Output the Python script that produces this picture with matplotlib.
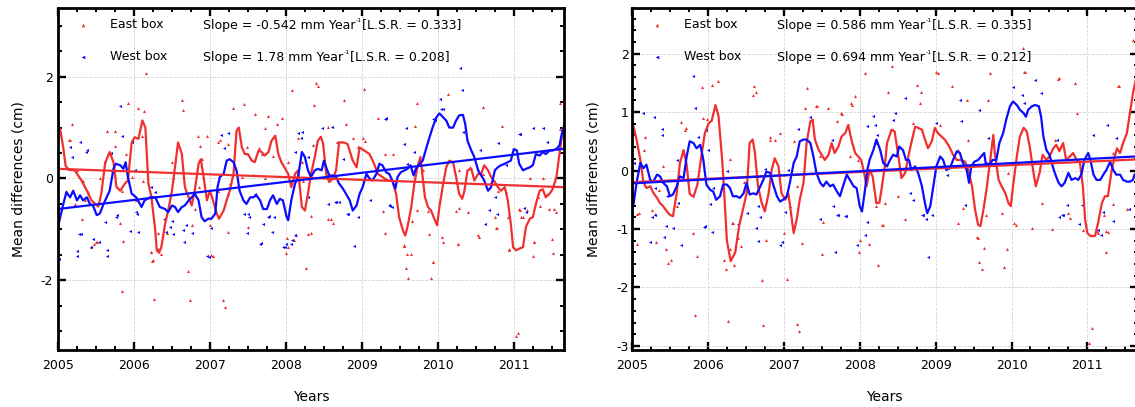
import matplotlib
matplotlib.use("Agg")
import matplotlib.pyplot as plt
from matplotlib.ticker import MultipleLocator, FuncFormatter

plt.rcParams['axes.unicode_minus'] = False
plt.rcParams['font.family'] = ['DejaVu Sans']

# ---------------- DATA ----------------
panel_titles = ["East box", "West box"]
x_range = (2005.0, 2011.66)

# Left panel - smoothed lines
L_east_line_t = [2005.00, 2005.03, 2005.07, 2005.10, 2005.14, 2005.22, 2005.31, 2005.38, 2005.44, 2005.53,
                 2005.57, 2005.62, 2005.68, 2005.73, 2005.77, 2005.82, 2005.88, 2005.92, 2005.97, 2006.01,
                 2006.06, 2006.11, 2006.15, 2006.19, 2006.23, 2006.28, 2006.30, 2006.33, 2006.36, 2006.41,
                 2006.45, 2006.50, 2006.54, 2006.58, 2006.63, 2006.67, 2006.72, 2006.76, 2006.80, 2006.85,
                 2006.88, 2006.91, 2006.96, 2007.00, 2007.04, 2007.09, 2007.12, 2007.18, 2007.22, 2007.26,
                 2007.31, 2007.35, 2007.38, 2007.42, 2007.46, 2007.50, 2007.55, 2007.59, 2007.64, 2007.68,
                 2007.72, 2007.77, 2007.81, 2007.86, 2007.90, 2007.94, 2007.99, 2008.03, 2008.07, 2008.12,
                 2008.16, 2008.21, 2008.25, 2008.29, 2008.33, 2008.38, 2008.42, 2008.46, 2008.49, 2008.53,
                 2008.57, 2008.62, 2008.66, 2008.70, 2008.75, 2008.81, 2008.88, 2008.93, 2008.97, 2009.03,
                 2009.10, 2009.16, 2009.21, 2009.27, 2009.34, 2009.40, 2009.45, 2009.49, 2009.54, 2009.57,
                 2009.60, 2009.65, 2009.69, 2009.73, 2009.77, 2009.80, 2009.83, 2009.87, 2009.91, 2009.96,
                 2009.99, 2010.02, 2010.07, 2010.11, 2010.15, 2010.20, 2010.24, 2010.28, 2010.32, 2010.35,
                 2010.39, 2010.44, 2010.48, 2010.53, 2010.57, 2010.61, 2010.66, 2010.70, 2010.75, 2010.79,
                 2010.83, 2010.88, 2010.92, 2010.96, 2010.99, 2011.03, 2011.07, 2011.12, 2011.16, 2011.21,
                 2011.25, 2011.29, 2011.34, 2011.38, 2011.42, 2011.47, 2011.51, 2011.56, 2011.60, 2011.63,
                 2011.66]
L_east_line_v = [1.07, 0.95, 0.60, 0.25, 0.17, 0.16, -0.04, -0.24, -0.43, -0.55,
                 -0.30, 0.30, 0.52, 0.32, -0.17, -0.24, -0.10, -0.04, 0.71, 0.81,
                 0.78, 1.14, 1.00, -0.10, -0.37, -1.02, -1.41, -1.46, -1.35, -0.89,
                 -0.63, -0.24, 0.22, 0.71, 0.48, -0.17, -0.37, -0.53, -0.24, 0.29,
                 0.38, 0.09, -0.43, -0.24, -0.43, -0.69, -0.79, -0.63, -0.43, -0.24,
                 0.09, 0.94, 1.00, 0.61, 0.48, 0.48, 0.35, 0.32, 0.55, 0.52,
                 0.45, 0.52, 0.74, 0.84, 0.48, 0.32, 0.19, 0.09, -0.17, 0.09,
                 0.16, -0.56, -0.63, -0.30, 0.09, 0.42, 0.74, 0.82, 0.68, 0.09,
                 -0.07, 0.00, 0.16, 0.71, 0.71, 0.68, 0.35, 0.22, 0.61, 0.55,
                 0.48, 0.29, 0.09, 0.03, -0.04, -0.04, -0.30, -0.76, -1.02, -1.12,
                 -0.95, -0.56, -0.10, 0.22, 0.42, 0.03, -0.37, -0.56, -0.63, -0.82,
                 -0.92, -0.56, -0.10, 0.22, 0.35, 0.32, 0.03, -0.30, -0.40, -0.24,
                 0.16, 0.19, -0.04, 0.09, 0.09, 0.26, 0.16, 0.03, -0.07, -0.17,
                 -0.24, -0.17, -0.43, -0.89, -1.35, -1.41, -1.38, -1.35, -0.95, -0.79,
                 -0.76, -0.50, -0.24, -0.21, -0.37, -0.30, -0.21, 0.03, 0.48, 0.81,
                 1.05]

L_west_line_t = [2005.00, 2005.07, 2005.11, 2005.16, 2005.20, 2005.25, 2005.29, 2005.33, 2005.38, 2005.42,
                 2005.46, 2005.51, 2005.55, 2005.60, 2005.64, 2005.68, 2005.73, 2005.76, 2005.82, 2005.86,
                 2005.89, 2005.92, 2005.97, 2006.03, 2006.10, 2006.14, 2006.21, 2006.28, 2006.34, 2006.41,
                 2006.45, 2006.50, 2006.54, 2006.58, 2006.63, 2006.67, 2006.72, 2006.76, 2006.80, 2006.85,
                 2006.89, 2006.93, 2006.98, 2007.02, 2007.07, 2007.10, 2007.13, 2007.18, 2007.22, 2007.26,
                 2007.31, 2007.35, 2007.39, 2007.44, 2007.48, 2007.53, 2007.57, 2007.61, 2007.66, 2007.70,
                 2007.75, 2007.79, 2007.83, 2007.88, 2007.92, 2007.96, 2008.01, 2008.03, 2008.07, 2008.12,
                 2008.16, 2008.21, 2008.25, 2008.29, 2008.33, 2008.38, 2008.42, 2008.47, 2008.50, 2008.53,
                 2008.57, 2008.62, 2008.66, 2008.70, 2008.75, 2008.79, 2008.84, 2008.88, 2008.93, 2008.97,
                 2009.01, 2009.06, 2009.10, 2009.14, 2009.19, 2009.23, 2009.27, 2009.32, 2009.36, 2009.40,
                 2009.44, 2009.47, 2009.51, 2009.56, 2009.60, 2009.64, 2009.68, 2009.71, 2009.76, 2009.80,
                 2009.85, 2009.89, 2009.93, 2009.98, 2010.02, 2010.07, 2010.11, 2010.15, 2010.20, 2010.24,
                 2010.28, 2010.33, 2010.36, 2010.39, 2010.44, 2010.48, 2010.53, 2010.57, 2010.61, 2010.66,
                 2010.70, 2010.75, 2010.79, 2010.83, 2010.88, 2010.92, 2010.96, 2011.00, 2011.04, 2011.07,
                 2011.12, 2011.16, 2011.21, 2011.25, 2011.29, 2011.34, 2011.38, 2011.42, 2011.47, 2011.51,
                 2011.56, 2011.60, 2011.64, 2011.66]
L_west_line_v = [-0.95, -0.50, -0.27, -0.37, -0.24, -0.43, -0.33, -0.43, -0.37, -0.50,
                 -0.53, -0.72, -0.69, -0.50, -0.37, -0.24, 0.19, 0.29, 0.26, 0.19,
                 0.32, 0.03, -0.30, -0.37, -0.56, -0.43, -0.37, -0.37, -0.56, -0.60,
                 -0.66, -0.53, -0.56, -0.66, -0.56, -0.53, -0.43, -0.37, -0.30, -0.43,
                 -0.76, -0.84, -0.79, -0.79, -0.69, -0.17, 0.03, 0.09, 0.35, 0.38,
                 0.32, 0.16, -0.24, -0.43, -0.50, -0.37, -0.37, -0.33, -0.43, -0.60,
                 -0.60, -0.43, -0.33, -0.50, -0.40, -0.43, -0.76, -0.82, -0.43, -0.10,
                 0.03, 0.52, 0.42, 0.16, 0.03, 0.16, 0.19, 0.16, 0.35, 0.22,
                 0.06, 0.06, 0.03, -0.10, -0.20, -0.30, -0.43, -0.63, -0.53, -0.30,
                 -0.17, 0.09, 0.00, -0.04, 0.09, 0.29, 0.26, 0.12, 0.09, -0.04,
                 -0.20, 0.03, 0.12, 0.16, 0.19, 0.26, 0.06, 0.19, 0.29, 0.35,
                 0.61, 0.81, 1.00, 1.20, 1.28, 1.20, 1.14, 1.00, 1.00, 1.14,
                 1.24, 1.25, 1.07, 0.74, 0.55, 0.42, 0.16, 0.06, -0.04, -0.24,
                 -0.17, 0.16, 0.22, 0.26, 0.29, 0.32, 0.35, 0.58, 0.55, 0.29,
                 0.16, 0.19, 0.22, 0.26, 0.48, 0.45, 0.52, 0.48, 0.55, 0.55,
                 0.58, 0.65, 0.94, 1.00]

# Left panel - scattered points
L_east_pts_t = [2005.01, 2006.16, 2005.92, 2006.05, 2006.13, 2005.18, 2006.63, 2006.65, 2007.30, 2007.45,
                2007.59, 2007.76, 2007.88, 2007.95, 2008.08, 2008.40, 2008.42, 2008.37, 2005.64, 2005.75,
                2005.16, 2007.13, 2006.87, 2006.96, 2006.84, 2007.64, 2007.72, 2007.49, 2008.16, 2008.36,
                2005.55, 2009.03, 2008.77, 2009.72, 2010.59, 2011.61, 2009.21, 2009.70, 2010.84, 2008.88,
                2009.01, 2011.61, 2005.31, 2005.48, 2005.50, 2005.81, 2005.86, 2005.84, 2006.22, 2006.24,
                2006.27, 2006.32, 2006.36, 2006.43, 2006.71, 2006.74, 2006.76, 2007.00, 2007.04, 2007.17,
                2007.20, 2007.24, 2007.50, 2008.02, 2008.00, 2008.10, 2008.13, 2008.27, 2008.29, 2008.33,
                2008.59, 2008.62, 2009.28, 2009.30, 2009.55, 2009.58, 2009.61, 2009.64, 2009.66, 2009.72,
                2009.88, 2009.91, 2009.94, 2010.05, 2010.07, 2010.24, 2010.28, 2010.27, 2010.39, 2010.54,
                2010.75, 2010.78, 2010.92, 2010.94, 2011.03, 2011.05, 2011.08, 2011.12, 2011.17, 2011.25,
                2011.26, 2011.35, 2011.46, 2011.50, 2011.51, 2011.55, 2005.14, 2005.75, 2005.33, 2005.25,
                2005.62, 2005.90, 2006.11, 2006.50, 2006.52, 2006.89, 2007.10, 2007.24, 2007.68, 2007.83,
                2008.03, 2008.21, 2005.43, 2005.51, 2006.23, 2006.25, 2006.32, 2007.02, 2008.03, 2005.36,
                2005.40, 2006.12, 2006.76, 2006.85, 2007.11, 2007.42, 2007.57, 2007.72, 2008.12, 2008.23,
                2007.24, 2006.80, 2006.03, 2005.84, 2005.22, 2005.11, 2005.97, 2008.55, 2008.79, 2009.04,
                2008.67, 2008.95, 2009.30, 2009.41, 2009.76, 2009.80, 2010.28, 2010.42, 2010.59, 2010.70,
                2010.79, 2010.90, 2011.07, 2011.21, 2011.32, 2011.38, 2011.43, 2011.53, 2009.56, 2009.60,
                2009.93, 2010.26, 2010.53, 2010.77, 2010.93, 2011.09, 2011.27, 2008.55, 2008.33, 2009.87,
                2010.13]
L_east_pts_v = [3.00, 2.08, 1.49, 1.39, 1.33, 1.08, 1.55, 1.35, 1.39, 1.47,
                1.27, 1.22, 1.08, 1.18, 1.73, 1.88, 1.82, 1.45, 0.94, 0.94,
                0.75, 0.75, 0.63, 0.84, 0.84, 0.59, 1.00, 0.61, 0.80, 0.65,
                0.00, 1.76, 1.55, 1.49, 1.41, 1.49, 1.18, 1.04, 1.04, 0.80,
                0.80, 0.98, -0.79, -1.28, -1.24, -0.88, -1.22, -2.22, -1.45, -1.63,
                -2.37, -1.08, -1.49, -1.08, -1.82, -2.39, -0.92, -0.92, -1.53, -2.39,
                -2.53, -1.06, -0.96, -1.17, -1.47, -1.20, -1.12, -1.75, -1.10, -0.73,
                -0.79, -0.88, -0.64, -1.08, -1.33, -1.76, -1.96, -1.49, -0.84, -0.61,
                -1.10, -1.96, -1.65, -1.14, -1.25, -0.63, -0.57, -1.29, -0.65, -1.14,
                -0.75, -0.98, -0.75, -1.39, -3.10, -3.04, -0.61, -0.75, -0.61, -1.53,
                -1.25, -0.55, -0.59, -1.19, -1.47, -0.65, 0.75, 0.63, -0.04, 0.16,
                0.35, 0.48, 0.84, 0.32, 0.00, 0.38, 0.71, 0.68, 0.48, 0.45,
                0.32, 0.32, -1.34, -1.25, -1.44, -1.60, -1.38, -1.51, -1.35, -0.43,
                -0.27, -0.04, -0.37, -0.17, -0.24, 0.03, 0.06, 0.00, 0.03, -0.04,
                -0.30, -0.60, -0.43, -0.24, -0.50, -0.24, 0.03, 1.02, 1.07, 0.74,
                0.71, 0.61, 0.48, 0.48, 0.35, 0.16, 0.16, 0.22, 0.09, -0.07,
                -0.24, -0.27, -0.60, 0.00, -0.37, 0.00, -0.30, -0.60, -1.31, -1.49,
                -1.64, -1.28, -1.12, -0.98, -1.40, -0.76, -1.25, -0.79, -1.08, -0.63,
                1.66]

L_west_pts_t = [2005.81, 2005.84, 2005.98, 2005.29, 2005.16, 2005.37, 2005.18, 2005.70, 2007.24, 2008.16,
                2008.20, 2008.47, 2010.29, 2010.32, 2010.07, 2010.03, 2009.32, 2009.58, 2009.96, 2008.60,
                2011.25, 2011.38, 2011.08, 2010.79, 2005.01, 2005.25, 2005.27, 2005.30, 2005.43, 2005.46,
                2005.54, 2005.62, 2005.65, 2005.76, 2005.95, 2006.04, 2006.05, 2006.40, 2006.42, 2006.50,
                2006.52, 2006.64, 2006.66, 2006.68, 2006.96, 2006.99, 2007.01, 2007.45, 2007.49, 2007.51,
                2007.67, 2007.70, 2007.78, 2007.82, 2007.84, 2007.96, 2008.00, 2008.08, 2008.66, 2008.82,
                2008.90, 2008.95, 2009.37, 2010.62, 2010.67, 2011.14, 2011.16, 2005.38, 2006.01, 2006.23,
                2006.28, 2006.03, 2005.77, 2005.25, 2005.64, 2006.41, 2006.47, 2006.76, 2007.15, 2007.18,
                2007.26, 2007.50, 2007.59, 2007.66, 2007.77, 2007.99, 2008.07, 2008.12, 2008.21, 2008.12,
                2008.29, 2008.75, 2008.29, 2008.55, 2008.64, 2008.70, 2008.81, 2009.10, 2009.36, 2009.40,
                2009.30, 2009.56, 2009.69, 2009.60, 2009.94, 2010.04, 2010.33, 2010.55, 2010.90, 2011.07,
                2011.43, 2011.57, 2010.75, 2010.78]
L_west_pts_v = [1.43, 0.84, 0.71, 0.71, 0.61, 0.53, 0.43, 0.51, 0.90, 0.90,
                0.80, 1.00, 2.18, 1.73, 1.37, 1.57, 1.18, 1.00, 1.14, 1.02,
                1.00, 1.00, 0.88, 0.69, -1.59, -1.53, -1.10, -1.10, -1.35, -1.18,
                -1.25, -0.86, -1.53, -0.75, -1.04, -0.69, -1.06, -0.79, -1.06, -0.84,
                -1.10, -1.02, -1.25, -0.92, -1.53, -1.55, -0.98, -0.69, -1.08, -0.75,
                -1.27, -0.90, -0.73, -1.06, -0.76, -1.35, -1.29, -1.20, -0.47, -0.69,
                -1.33, -0.76, -0.55, -0.90, -0.61, -0.57, -0.65, 0.55, 0.16, -0.17,
                -0.27, -0.66, -0.72, -1.42, -1.41, -0.79, -0.96, -1.08, 0.85, 0.60,
                -0.10, -0.69, -0.30, -1.28, -0.76, -1.34, -1.28, -1.12, 0.91, 0.52,
                0.42, 0.38, -0.37, -0.50, -0.46, -0.46, -0.69, -0.43, -0.53, -0.56,
                1.17, 0.68, 0.52, 0.29, 1.17, 1.37, 0.91, 0.55, 0.26, 0.88,
                0.71, 0.58, -0.37, -0.69]

# Right panel - smoothed lines
R_east_line_t = [2005.00, 2005.02, 2005.06, 2005.11, 2005.15, 2005.19, 2005.24, 2005.28, 2005.33, 2005.37,
                 2005.41, 2005.46, 2005.50, 2005.54, 2005.59, 2005.63, 2005.68, 2005.72, 2005.76, 2005.81,
                 2005.86, 2005.92, 2005.96, 2006.01, 2006.05, 2006.10, 2006.14, 2006.19, 2006.22, 2006.25,
                 2006.30, 2006.36, 2006.41, 2006.47, 2006.51, 2006.55, 2006.59, 2006.62, 2006.66, 2006.71,
                 2006.75, 2006.80, 2006.84, 2006.88, 2006.93, 2006.97, 2007.02, 2007.06, 2007.10, 2007.13,
                 2007.17, 2007.21, 2007.26, 2007.30, 2007.35, 2007.38, 2007.41, 2007.46, 2007.50, 2007.54,
                 2007.59, 2007.63, 2007.67, 2007.72, 2007.76, 2007.81, 2007.85, 2007.89, 2007.94, 2007.98,
                 2008.02, 2008.06, 2008.09, 2008.13, 2008.17, 2008.22, 2008.26, 2008.29, 2008.33, 2008.36,
                 2008.42, 2008.46, 2008.51, 2008.55, 2008.60, 2008.64, 2008.69, 2008.73, 2008.77, 2008.82,
                 2008.86, 2008.90, 2008.95, 2008.99, 2009.03, 2009.08, 2009.12, 2009.18, 2009.23, 2009.28,
                 2009.34, 2009.39, 2009.43, 2009.48, 2009.52, 2009.56, 2009.59, 2009.63, 2009.67, 2009.72,
                 2009.76, 2009.78, 2009.83, 2009.87, 2009.92, 2009.96, 2009.99, 2010.02, 2010.07, 2010.11,
                 2010.16, 2010.20, 2010.24, 2010.29, 2010.32, 2010.37, 2010.41, 2010.46, 2010.50, 2010.55,
                 2010.59, 2010.63, 2010.68, 2010.72, 2010.77, 2010.81, 2010.86, 2010.90, 2010.94, 2010.97,
                 2011.00, 2011.04, 2011.10, 2011.14, 2011.19, 2011.23, 2011.27, 2011.32, 2011.36, 2011.39,
                 2011.43, 2011.47, 2011.52, 2011.56, 2011.60, 2011.62, 2011.66]
R_east_line_v = [0.78, 0.75, 0.53, 0.18, -0.20, -0.30, -0.27, -0.38, -0.47, -0.56,
                 -0.61, -0.70, -0.76, -0.78, -0.38, 0.12, 0.35, 0.10, -0.40, -0.45,
                 -0.25, 0.30, 0.64, 0.81, 0.85, 1.12, 0.93, 0.15, -0.50, -1.20,
                 -1.55, -1.40, -0.96, -0.62, -0.39, 0.47, 0.53, 0.30, -0.27, -0.56,
                 -0.70, -0.39, 0.01, 0.21, 0.07, -0.39, -0.50, -0.39, -0.78, -1.07,
                 -0.84, -0.50, -0.21, 0.47, 0.84, 0.87, 0.53, 0.35, 0.27, 0.18,
                 0.27, 0.47, 0.30, 0.41, 0.58, 0.64, 0.78, 0.53, 0.30, 0.24,
                 0.18, -0.05, -0.27, 0.01, -0.10, -0.56, -0.55, -0.30, 0.07, 0.47,
                 0.70, 0.67, 0.24, -0.13, -0.04, 0.24, 0.53, 0.75, 0.73, 0.70,
                 0.53, 0.38, 0.50, 0.73, 0.64, 0.58, 0.53, 0.41, 0.27, 0.18,
                 0.18, 0.15, 0.01, -0.27, -0.67, -0.93, -0.95, -0.67, -0.33, 0.18,
                 0.61, 0.30, -0.16, -0.27, -0.39, -0.56, -0.61, -0.27, 0.24, 0.58,
                 0.73, 0.67, 0.41, -0.04, -0.27, -0.04, 0.27, 0.18, 0.24, 0.38,
                 0.44, 0.33, 0.47, 0.18, 0.24, 0.30, 0.18, 0.15, -0.27, -0.84,
                 -1.07, -1.12, -1.12, -0.90, -0.56, -0.44, -0.44, 0.01, 0.24, 0.38,
                 0.30, 0.47, 0.64, 0.98, 1.32, 1.44, 1.70]

R_west_line_t = [2005.00, 2005.02, 2005.06, 2005.11, 2005.15, 2005.19, 2005.24, 2005.28, 2005.33, 2005.37,
                 2005.41, 2005.46, 2005.50, 2005.54, 2005.59, 2005.63, 2005.68, 2005.72, 2005.76, 2005.81,
                 2005.85, 2005.90, 2005.94, 2005.98, 2006.03, 2006.07, 2006.11, 2006.16, 2006.20, 2006.25,
                 2006.29, 2006.33, 2006.38, 2006.42, 2006.47, 2006.51, 2006.55, 2006.60, 2006.64, 2006.69,
                 2006.73, 2006.77, 2006.82, 2006.86, 2006.91, 2006.95, 2006.99, 2007.04, 2007.08, 2007.13,
                 2007.17, 2007.21, 2007.26, 2007.30, 2007.35, 2007.39, 2007.43, 2007.48, 2007.52, 2007.56,
                 2007.61, 2007.65, 2007.70, 2007.74, 2007.78, 2007.83, 2007.87, 2007.92, 2007.96, 2008.00,
                 2008.03, 2008.07, 2008.10, 2008.13, 2008.18, 2008.22, 2008.27, 2008.31, 2008.36, 2008.40,
                 2008.44, 2008.49, 2008.52, 2008.57, 2008.61, 2008.65, 2008.68, 2008.73, 2008.77, 2008.82,
                 2008.86, 2008.89, 2008.93, 2008.97, 2009.01, 2009.06, 2009.10, 2009.14, 2009.19, 2009.23,
                 2009.28, 2009.32, 2009.36, 2009.41, 2009.44, 2009.47, 2009.51, 2009.56, 2009.60, 2009.64,
                 2009.66, 2009.71, 2009.75, 2009.80, 2009.84, 2009.89, 2009.93, 2009.98, 2010.02, 2010.07,
                 2010.11, 2010.16, 2010.19, 2010.22, 2010.27, 2010.31, 2010.36, 2010.39, 2010.42, 2010.46,
                 2010.50, 2010.53, 2010.57, 2010.62, 2010.66, 2010.70, 2010.75, 2010.79, 2010.84, 2010.88,
                 2010.92, 2010.96, 2011.01, 2011.04, 2011.08, 2011.12, 2011.17, 2011.21, 2011.25, 2011.30,
                 2011.34, 2011.38, 2011.43, 2011.47, 2011.52, 2011.56, 2011.60, 2011.62, 2011.66]
R_west_line_v = [-0.65, -0.58, -0.21, 0.13, 0.04, 0.10, -0.16, -0.19, -0.07, -0.10,
                 -0.21, -0.27, -0.44, -0.41, -0.27, -0.10, -0.13, 0.24, 0.50, 0.47,
                 0.38, 0.44, 0.18, -0.24, -0.33, -0.36, -0.50, -0.44, -0.24, -0.24,
                 -0.30, -0.44, -0.44, -0.47, -0.39, -0.21, -0.41, -0.39, -0.41, -0.27,
                 -0.16, -0.02, -0.04, -0.24, -0.44, -0.53, -0.50, -0.44, -0.21, 0.13,
                 0.24, 0.50, 0.53, 0.53, 0.47, 0.24, -0.04, -0.21, -0.27, -0.19,
                 -0.27, -0.24, -0.36, -0.44, -0.27, -0.07, -0.16, -0.27, -0.30, -0.61,
                 -0.70, -0.33, 0.01, 0.18, 0.35, 0.53, 0.35, 0.13, 0.07, 0.18,
                 0.27, 0.24, 0.41, 0.35, 0.18, 0.18, 0.01, 0.07, -0.04, -0.27,
                 -0.56, -0.73, -0.61, -0.27, 0.07, 0.24, 0.18, 0.01, 0.04, 0.18,
                 0.33, 0.30, 0.13, 0.01, -0.21, 0.07, 0.15, 0.18, 0.24, 0.30,
                 0.13, 0.10, 0.18, 0.18, 0.47, 0.64, 0.87, 1.10, 1.18, 1.12,
                 1.04, 0.98, 0.92, 1.04, 1.10, 1.12, 1.10, 0.92, 0.58, 0.35,
                 0.27, 0.13, -0.04, -0.21, -0.27, -0.21, -0.04, -0.16, -0.13, -0.16,
                 -0.07, 0.18, 0.30, 0.18, -0.07, -0.16, -0.16, -0.07, 0.01, 0.15,
                 0.01, -0.07, -0.07, -0.16, -0.19, -0.19, -0.16, -0.07, -0.05]

# Right panel - scattered points
R_east_pts_t = [2005.01, 2005.92, 2006.05, 2006.13, 2006.61, 2006.59, 2006.63, 2007.31, 2007.44, 2007.58,
                2007.77, 2007.90, 2007.94, 2008.07, 2005.64, 2005.71, 2005.41, 2005.17, 2005.16, 2006.95,
                2006.82, 2007.13, 2007.28, 2007.70, 2005.99, 2008.43, 2009.03, 2009.72, 2010.15, 2010.17,
                2010.61, 2010.84, 2011.42, 2011.60, 2008.37, 2008.81, 2008.75, 2009.41, 2010.86, 2009.06,
                2005.09, 2005.07, 2005.26, 2005.30, 2005.32, 2005.45, 2005.48, 2005.51, 2005.80, 2005.83,
                2005.86, 2006.21, 2006.24, 2006.26, 2006.32, 2006.29, 2006.35, 2006.39, 2006.44, 2006.71,
                2006.73, 2006.76, 2007.00, 2007.04, 2007.17, 2007.20, 2007.24, 2007.50, 2007.52, 2007.99,
                2008.01, 2008.12, 2008.24, 2008.29, 2008.60, 2009.30, 2009.56, 2009.57, 2009.61, 2009.64,
                2009.66, 2009.88, 2009.90, 2009.94, 2010.03, 2010.06, 2010.27, 2010.40, 2010.53, 2010.75,
                2010.77, 2010.94, 2011.02, 2011.06, 2011.22, 2011.24, 2011.27, 2011.52, 2011.13, 2005.35,
                2005.24, 2005.06, 2005.59, 2006.29, 2006.47, 2006.82, 2006.88, 2007.04, 2007.08, 2007.17,
                2007.37, 2007.43, 2007.76, 2007.89, 2007.48, 2007.87, 2007.98, 2008.22, 2008.22, 2005.70,
                2005.94, 2006.33, 2008.79, 2009.00, 2009.21, 2009.69, 2010.18, 2010.62, 2011.40, 2008.70,
                2009.30, 2009.43, 2009.96, 2010.57, 2010.64, 2011.34, 2008.33, 2008.51, 2008.31, 2009.36,
                2009.54, 2011.14, 2011.25, 2011.34]
R_east_pts_v = [2.49, 1.43, 1.47, 1.53, 1.45, 1.30, 1.35, 1.41, 1.11, 1.07,
                0.97, 1.12, 1.28, 1.67, 0.83, 0.73, 0.08, 0.57, 0.35, 0.65,
                0.58, 0.51, 1.07, 0.84, 0.88, 1.78, 1.67, 1.67, 2.10, 1.68,
                1.57, 1.50, 1.45, 2.24, 1.35, 1.35, 1.47, 1.21, 0.99, 0.78,
                -0.72, -1.25, -0.67, -0.74, -1.22, -1.35, -1.58, -1.53, -1.07, -2.47,
                -1.47, -1.53, -1.68, -2.58, -0.90, -1.34, -1.61, -1.15, -1.29, -1.87,
                -2.64, -1.18, -1.07, -1.85, -2.62, -2.75, -1.24, -1.42, -0.88, -1.40,
                -1.18, -1.26, -1.61, -0.93, -0.83, -0.89, -1.15, -1.57, -1.68, -1.32,
                -0.76, -0.72, -1.65, -1.34, -0.89, -0.93, -0.98, -0.55, -1.00, -0.72,
                -0.82, -1.02, -2.95, -2.70, -0.76, -1.39, -1.05, -0.65, -1.04, -0.33,
                -0.27, -0.75, -0.61, 0.20, -0.20, 0.52, 0.52, -0.39, -0.61, -0.27,
                0.87, 1.10, 0.98, 1.15, 0.24, 0.24, 0.18, 0.47, -0.61, 0.70,
                0.90, -0.90, 1.15, 1.68, 1.44, 1.21, 1.68, 1.58, 1.44, 0.81,
                0.35, 0.53, -0.04, 0.53, 0.41, 0.30, -0.56, -0.44, -0.93, -0.64,
                -1.14, -1.07, -1.04, -0.58]

R_west_pts_t = [2005.80, 2005.83, 2005.15, 2005.29, 2005.39, 2005.39, 2005.97, 2005.87, 2007.19, 2007.34,
                2008.20, 2008.18, 2005.03, 2008.60, 2008.44, 2009.32, 2009.57, 2010.02, 2010.14, 2010.31,
                2011.07, 2011.26, 2005.24, 2005.27, 2005.30, 2005.42, 2005.45, 2005.54, 2005.64, 2005.95,
                2006.05, 2006.40, 2006.52, 2006.63, 2006.69, 2006.66, 2006.95, 2006.98, 2007.02, 2007.48,
                2007.67, 2007.70, 2007.82, 2007.97, 2008.07, 2008.10, 2008.82, 2008.88, 2008.95, 2008.90,
                2009.39, 2010.63, 2010.68, 2010.73, 2010.89, 2010.93, 2011.14, 2011.18, 2011.20, 2011.34,
                2011.55, 2005.59, 2006.00, 2006.25, 2006.07, 2006.03, 2005.61, 2005.46, 2005.30, 2005.96,
                2006.75, 2006.66, 2007.05, 2007.63, 2007.71, 2007.65, 2007.81, 2008.10, 2008.23, 2008.46,
                2010.16, 2010.39, 2009.01, 2009.34, 2009.69, 2010.60, 2011.38, 2009.15, 2008.66, 2008.70,
                2008.84, 2010.66]
R_west_pts_v = [1.62, 1.07, 0.98, 0.92, 0.71, 0.60, 0.70, 0.58, 0.71, 0.92,
                0.78, 0.93, 0.13, 1.24, 0.87, 1.21, 1.04, 1.43, 1.30, 1.55,
                0.61, 0.78, -1.23, -0.79, -0.76, -1.14, -0.95, -0.98, -1.27, -0.96,
                -1.06, -0.91, -0.72, -0.98, -0.79, -1.20, -1.27, -1.23, -0.71, -0.83,
                -1.39, -0.76, -0.77, -1.27, -1.10, -0.88, -0.76, -0.83, -0.76, -1.48,
                -0.59, -0.79, -0.76, -0.59, -0.91, -0.59, -1.01, -1.10, -0.71, -0.86,
                -0.65, 0.18, 0.35, 0.00, -0.30, -0.58, -0.56, -0.44, -0.30, -0.95,
                0.02, -0.61, 0.01, 0.53, -0.76, -0.60, -0.78, 0.76, 0.60, 0.98,
                1.15, 1.32, 0.81, 0.84, 0.55, 0.53, 0.55, -0.08, -0.39, -0.50,
                -0.76, -0.76]

# Trend lines: value at 2005 (cm) and slope (mm/year)
L_east_trend = (0.19, -0.542)
L_west_trend = (-0.60, 1.78)
R_east_trend = (-0.20, 0.586)
R_west_trend = (-0.22, 0.694)

# legend texts: (before superscript, superscript, after)
L_labels = [("Slope = -0.542 mm Year", "-1", "[L.S.R. = 0.333]"),
            ("Slope = 1.78 mm Year", "-1", "[L.S.R. = 0.208]")]
R_labels = [("Slope = 0.586 mm Year", "-1", "[L.S.R. = 0.335]"),
            ("Slope = 0.694 mm Year", "-1", "[L.S.R. = 0.212]")]

# ---------------- STYLE ----------------
RED = '#f03030'
BLUE = '#0c0cff'
W, H = 1135, 407

fig = plt.figure(figsize=(W / 100, H / 100), dpi=100)
axL = fig.add_axes([58 / W, 57 / H, 506 / W, 342 / H])
axR = fig.add_axes([632 / W, 57 / H, 505.5 / W, 342 / H])


def draw(ax, east_lt, east_lv, west_lt, west_lv, east_pt, east_pv, west_pt, west_pv,
         east_tr, west_tr, labels, ylim, ymajor, yminor, ypad, ylabelpad):
    ax.plot(east_pt, east_pv, linestyle='none', marker='^', ms=2.2, color=RED, mew=0)
    ax.plot(west_pt, west_pv, linestyle='none', marker='<', ms=2.2, color=BLUE, mew=0)
    ax.plot(east_lt, east_lv, color=RED, lw=1.6, solid_joinstyle='round')
    ax.plot(west_lt, west_lv, color=BLUE, lw=1.6, solid_joinstyle='round')
    for (b, s), c in ((east_tr, RED), (west_tr, BLUE)):
        ax.plot(list(x_range), [b, b + s / 10.0 * (x_range[1] - x_range[0])], color=c, lw=1.6)

    ax.set_xlim(*x_range)
    ax.set_ylim(*ylim)
    ax.xaxis.set_major_locator(MultipleLocator(1))
    ax.xaxis.set_minor_locator(MultipleLocator(0.25))
    ax.yaxis.set_major_locator(MultipleLocator(ymajor))
    ax.yaxis.set_minor_locator(MultipleLocator(yminor))
    fmt = FuncFormatter(lambda v, p: '%d' % round(v))
    ax.xaxis.set_major_formatter(fmt)
    ax.yaxis.set_major_formatter(fmt)
    ax.tick_params(which='both', direction='in', top=True, right=True, color='black')
    ax.tick_params(which='major', length=5.8, width=1.7)
    ax.tick_params(which='minor', length=2.9, width=1.4)
    ax.tick_params(axis='x', which='major', pad=6.5, labelsize=9)
    ax.tick_params(axis='y', which='major', pad=ypad, labelsize=9)
    for sp in ax.spines.values():
        sp.set_linewidth(2.0)
    ax.grid(True, which='major', color='#d4d4d4', linestyle='--', linewidth=0.6)
    ax.set_axisbelow(True)
    ax.set_xlabel('Years', fontsize=10, labelpad=13)
    ax.set_ylabel('Mean differences (cm)', fontsize=10, labelpad=ylabelpad)

    # legend drawn in axes pixels
    ax_w = ax.get_position().width * W
    ax_h = ax.get_position().height * H
    renderer = fig.canvas.get_renderer()
    for i, (name, lab, c, m) in enumerate(zip(panel_titles, labels, (RED, BLUE), ('^', '<'))):
        yy = 1 - (17 + 32 * i) / ax_h
        ax.plot([25 / ax_w], [yy], marker=m, ms=2.6, color=c, mew=0,
                transform=ax.transAxes, clip_on=False)
        ax.text(52 / ax_w, yy, name, transform=ax.transAxes, va='center', ha='left', fontsize=9)
        t1 = ax.text(145 / ax_w, yy, lab[0], transform=ax.transAxes, va='center', ha='left', fontsize=9)
        bb = t1.get_window_extent(renderer)
        x_px = bb.x1 - ax.get_window_extent(renderer).x0
        t2 = ax.text((x_px + 0.5) / ax_w, yy + 5 / ax_h, lab[1], transform=ax.transAxes,
                     va='center', ha='left', fontsize=4.5)
        bb2 = t2.get_window_extent(renderer)
        x2 = bb2.x1 - ax.get_window_extent(renderer).x0
        ax.text((x2 + 0.3) / ax_w, yy, lab[2], transform=ax.transAxes, va='center', ha='left', fontsize=9)


draw(axL, L_east_line_t, L_east_line_v, L_west_line_t, L_west_line_v,
     L_east_pts_t, L_east_pts_v, L_west_pts_t, L_west_pts_v,
     L_east_trend, L_west_trend, L_labels, (-3.37, 3.35), 2, 0.5, 3.5, 11)
draw(axR, R_east_line_t, R_east_line_v, R_west_line_t, R_west_line_v,
     R_east_pts_t, R_east_pts_v, R_west_pts_t, R_west_pts_v,
     R_east_trend, R_west_trend, R_labels, (-3.07, 2.78), 1, 0.2, 2.5, 11)

fig.savefig('out.png', dpi=100)
